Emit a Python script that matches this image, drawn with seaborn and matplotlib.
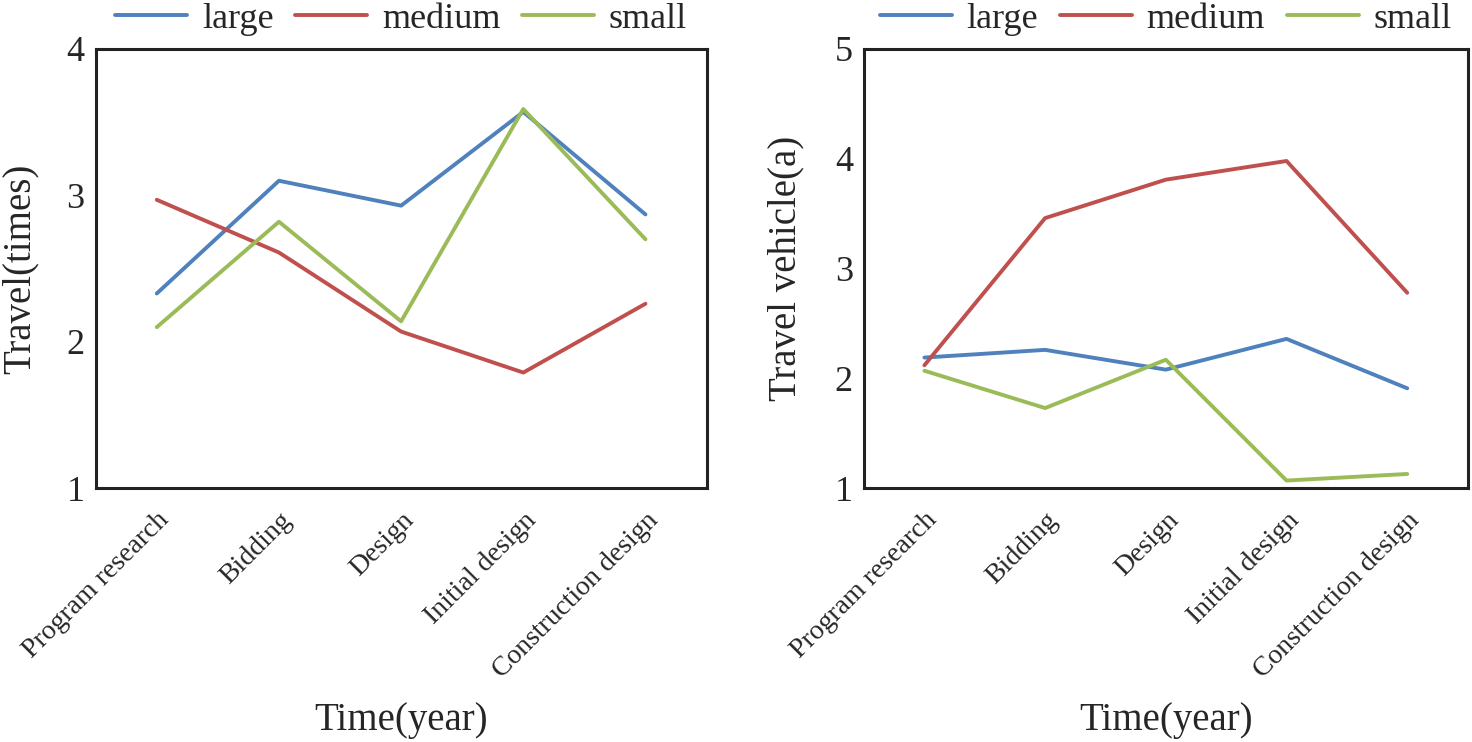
import matplotlib
matplotlib.use("Agg")
import matplotlib.pyplot as plt
from matplotlib.ticker import FixedLocator
import seaborn as sns
import pandas as pd

# Data

stages = ["Program research", "Bidding", "Design", "Initial design", "Construction design"]
sizes = ["large", "medium", "small"]

times_large = [2.33, 3.10, 2.93, 3.57, 2.87]
times_medium = [2.97, 2.61, 2.07, 1.79, 2.26]
times_small = [2.10, 2.82, 2.14, 3.59, 2.70]

vehicle_large = [2.19, 2.26, 2.08, 2.36, 1.91]
vehicle_medium = [2.12, 3.46, 3.81, 3.98, 2.78]
vehicle_small = [2.07, 1.73, 2.17, 1.07, 1.13]

palette = {"large": "#4F81BD", "medium": "#C0504D", "small": "#9BBB59"}


def to_long(large, medium, small):
    rows = []
    for name, vals in zip(sizes, [large, medium, small]):
        for stage, v in zip(stages, vals):
            rows.append({"stage": stage, "value": v, "size": name})
    return pd.DataFrame(rows)


def draw_panel(ax, df, ylabel, ylim, yticks, ypad):
    sns.lineplot(data=df, x="stage", y="value", hue="size", hue_order=sizes,
                 palette=palette, linewidth=2.8, ax=ax, sort=False)
    ax.set_xlim(-0.5, len(stages) - 0.5)
    ax.set_ylim(*ylim)
    ax.set_yticks(yticks)
    ax.set_xticks(range(len(stages)))
    ax.set_xticklabels(stages, rotation=45, ha="right", rotation_mode="anchor",
                       fontsize=20)
    ax.xaxis.set_minor_locator(FixedLocator([i + 0.5 for i in range(len(stages) - 1)]))
    ax.tick_params(axis="x", which="major", length=0, pad=14)
    ax.tick_params(axis="x", which="minor", direction="in", length=7, width=1.8)
    ax.tick_params(axis="y", direction="in", length=7, width=1.8, labelsize=26, pad=8)
    for sp in ax.spines.values():
        sp.set_linewidth(2.2)
        sp.set_color("#222222")
    ax.set_xlabel("Time(year)", fontsize=28, labelpad=14)
    ax.set_ylabel(ylabel, fontsize=28, labelpad=ypad)
    ax.grid(False)
    handles, labels = ax.get_legend_handles_labels()
    ax.legend(handles, labels, loc="lower center", bbox_to_anchor=(0.5, 1.03),
              ncol=3, frameon=False, fontsize=26, handlelength=2.0,
              columnspacing=0.6, handletextpad=0.4, borderaxespad=0.0,
              borderpad=0.0)


sns.set_theme(style="white")
plt.rcParams["font.family"] = ["Liberation Serif", "DejaVu Serif"]

fig = plt.figure(figsize=(14.72, 7.42), dpi=100)
ax1 = fig.add_axes([0.065, 0.342, 0.415, 0.592])
ax2 = fig.add_axes([0.587, 0.342, 0.410, 0.592])

draw_panel(ax1, to_long(times_large, times_medium, times_small),
           "Travel(times)", (1, 4), [1, 2, 3, 4], 20)
draw_panel(ax2, to_long(vehicle_large, vehicle_medium, vehicle_small),
           "Travel vehicle(a)", (1, 5), [1, 2, 3, 4, 5], 22)

fig.savefig("out.png", dpi=100, facecolor="white")
